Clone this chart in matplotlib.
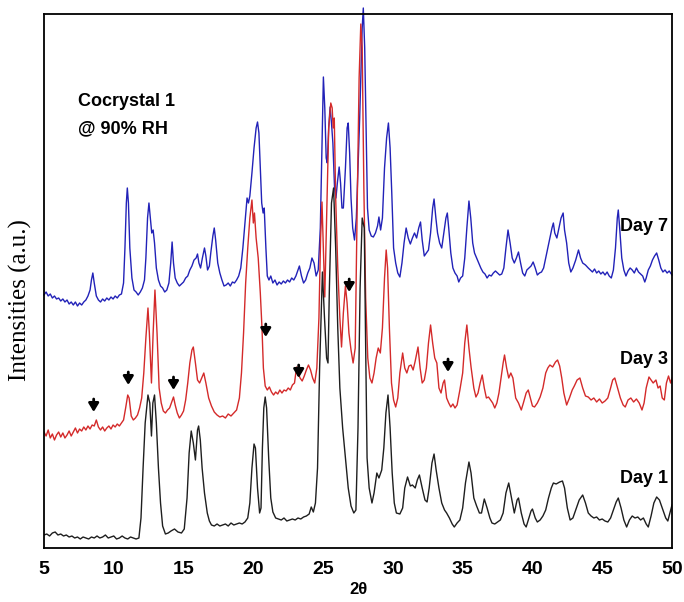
import numpy as np
import matplotlib.pyplot as plt

# PXRD traces of cocrystal 1 stored at 90% RH (stacked intensities, a.u.)
day1_2theta = [5.0, 5.2, 5.4, 5.6, 5.8, 6.0, 6.2, 6.4, 6.6, 6.8, 7.0, 7.2, 7.4, 7.6, 7.8, 8.0, 8.2, 8.4, 8.6, 8.8,
               9.0, 9.2, 9.4, 9.6, 9.8, 10.0, 10.2, 10.4, 10.6, 10.8, 11.0, 11.2, 11.4, 11.6, 11.8, 11.95, 12.1,
               12.25, 12.45, 12.58, 12.7, 12.8, 12.92, 13.05, 13.2, 13.35, 13.5, 13.7, 13.9, 14.1, 14.35, 14.6,
               14.85, 15.05, 15.25, 15.4, 15.55, 15.7, 15.85, 16.0, 16.08, 16.2, 16.33, 16.5, 16.7, 16.85, 17.0,
               17.2, 17.4, 17.6, 17.8, 18.0, 18.2, 18.4, 18.6, 18.8, 19.0, 19.2, 19.4, 19.6, 19.75, 19.9, 20.05,
               20.15, 20.3, 20.45, 20.55, 20.65, 20.75, 20.85, 20.95, 21.1, 21.25, 21.4, 21.6, 21.8, 22.0, 22.2,
               22.4, 22.6, 22.8, 23.0, 23.2, 23.4, 23.6, 23.8, 24.0, 24.15, 24.3, 24.45, 24.6, 24.75, 24.95, 25.1,
               25.25, 25.35, 25.45, 25.6, 25.75, 25.9, 26.05, 26.2, 26.4, 26.6, 26.8, 27.0, 27.2, 27.35, 27.5,
               27.65, 27.8, 27.95, 28.05, 28.15, 28.3, 28.5, 28.65, 28.85, 29.0, 29.2, 29.35, 29.5, 29.65, 29.8,
               29.95, 30.1, 30.25, 30.5, 30.7, 30.85, 31.05, 31.25, 31.4, 31.6, 31.75, 31.9, 32.1, 32.3, 32.45,
               32.6, 32.8, 32.95, 33.1, 33.3, 33.5, 33.7, 33.85, 34.05, 34.25, 34.4, 34.6, 34.8, 35.0, 35.2, 35.45,
               35.6, 35.8, 36.0, 36.2, 36.35, 36.55, 36.75, 36.95, 37.1, 37.3, 37.5, 37.7, 37.9, 38.1, 38.3, 38.5,
               38.7, 38.9, 39.0, 39.2, 39.4, 39.55, 39.7, 39.9, 40.0, 40.2, 40.35, 40.55, 40.75, 40.95, 41.15,
               41.35, 41.5, 41.7, 41.95, 42.15, 42.3, 42.5, 42.7, 42.9, 43.1, 43.35, 43.6, 43.8, 44.0, 44.2, 44.4,
               44.6, 44.8, 45.0, 45.2, 45.4, 45.6, 45.8, 46.0, 46.15, 46.35, 46.55, 46.75, 46.95, 47.15, 47.35,
               47.55, 47.75, 47.95, 48.15, 48.3, 48.5, 48.7, 48.9, 49.1, 49.3, 49.55, 49.7, 49.85, 50.0]
day1_int = [13, 14, 12, 15, 16, 13, 14, 12, 13, 11, 12, 10, 11, 9, 11, 10, 9, 11, 10, 12,
            10, 11, 13, 10, 11, 12, 9, 10, 12, 10, 9, 11, 10, 9, 10, 30, 80,
            125, 153, 145, 112, 145, 153, 125, 80, 45, 22, 14, 15, 17, 19, 16,
            15, 19, 50, 95, 117, 105, 88, 118, 122, 108, 80, 55, 35, 27, 23,
            22, 24, 22, 23, 24, 22, 25, 23, 24, 25, 24, 26, 30, 45, 80, 104,
            100, 60, 35, 40, 100, 140, 151, 140, 90, 50, 36, 30, 29, 28, 30,
            27, 28, 29, 28, 30, 29, 31, 32, 34, 41, 36, 45, 80, 180, 276, 230,
            190, 185, 260, 345, 360, 300, 220, 160, 120, 90, 60, 42, 35, 38, 120,
            260, 330, 320, 200, 90, 60, 45, 55, 75, 70, 78, 100, 135, 153, 120,
            75, 45, 35, 34, 40, 60, 71, 62, 63, 60, 68, 73, 60, 48, 46,
            60, 85, 94, 78, 60, 45, 38, 35, 30, 24, 21, 25, 28, 40, 65, 86,
            75, 50, 42, 35, 35, 49, 40, 30, 25, 24, 26, 28, 35, 55, 65, 50,
            35, 48, 50, 35, 24, 21, 28, 37, 39, 30, 26, 28, 32, 38, 50,
            60, 65, 64, 66, 67, 60, 40, 28, 30, 38, 48, 53, 45, 35, 32, 30,
            31, 28, 29, 27, 26, 30, 38, 46, 50, 40, 28, 21, 28, 32, 30,
            31, 28, 30, 24, 21, 32, 45, 51, 48, 40, 30, 27, 35, 43]

day3_2theta = [5.0, 5.15, 5.3, 5.45, 5.6, 5.75, 5.9, 6.05, 6.2, 6.35, 6.5, 6.65, 6.8, 6.95, 7.1, 7.25, 7.4, 7.55,
               7.7, 7.85, 8.0, 8.15, 8.3, 8.45, 8.6, 8.75, 8.9, 9.05, 9.2, 9.35, 9.5, 9.65, 9.8, 9.95, 10.1, 10.25,
               10.4, 10.55, 10.7, 10.85, 11.0, 11.1, 11.25, 11.4, 11.55, 11.7, 11.85, 12.0, 12.15, 12.3, 12.45,
               12.55, 12.7, 12.82, 12.95, 13.1, 13.25, 13.4, 13.55, 13.7, 13.85, 14.0, 14.15, 14.28, 14.4, 14.55,
               14.7, 14.85, 15.0, 15.15, 15.3, 15.45, 15.6, 15.7, 15.85, 16.0, 16.15, 16.3, 16.45, 16.6, 16.8,
               17.0, 17.2, 17.4, 17.6, 17.8, 18.0, 18.2, 18.4, 18.6, 18.8, 19.0, 19.15, 19.3, 19.45, 19.6, 19.75,
               19.9, 20.0, 20.08, 20.2, 20.35, 20.5, 20.62, 20.72, 20.85, 21.0, 21.15, 21.3, 21.45, 21.6, 21.75,
               21.9, 22.05, 22.2, 22.35, 22.5, 22.65, 22.8, 22.95, 23.1, 23.2, 23.35, 23.5, 23.65, 23.8, 23.95,
               24.1, 24.25, 24.4, 24.55, 24.7, 24.82, 24.92, 25.02, 25.12, 25.25, 25.4, 25.55, 25.65, 25.72, 25.8,
               25.9, 26.05, 26.2, 26.32, 26.45, 26.6, 26.72, 26.85, 27.0, 27.15, 27.3, 27.45, 27.58, 27.7, 27.8,
               27.92, 28.05, 28.2, 28.35, 28.5, 28.65, 28.8, 28.95, 29.1, 29.25, 29.4, 29.52, 29.62, 29.75, 29.9,
               30.05, 30.2, 30.35, 30.5, 30.7, 30.85, 31.0, 31.15, 31.3, 31.45, 31.6, 31.8, 31.95, 32.1, 32.25,
               32.4, 32.55, 32.7, 32.85, 33.0, 33.15, 33.3, 33.45, 33.6, 33.7, 33.85, 34.0, 34.15, 34.3, 34.45,
               34.6, 34.8, 35.0, 35.15, 35.3, 35.45, 35.6, 35.8, 35.95, 36.1, 36.25, 36.4, 36.55, 36.7, 36.85,
               37.0, 37.15, 37.3, 37.45, 37.6, 37.75, 37.9, 38.0, 38.15, 38.3, 38.45, 38.6, 38.8, 39.0, 39.2,
               39.35, 39.55, 39.7, 39.85, 40.0, 40.15, 40.35, 40.55, 40.75, 40.95, 41.1, 41.25, 41.45, 41.65,
               41.8, 41.95, 42.1, 42.25, 42.45, 42.65, 42.85, 43.0, 43.2, 43.4, 43.6, 43.8, 44.0, 44.2, 44.4,
               44.6, 44.8, 45.0, 45.2, 45.4, 45.6, 45.75, 45.9, 46.1, 46.3, 46.5, 46.65, 46.85, 47.05, 47.25,
               47.45, 47.65, 47.85, 48.0, 48.15, 48.35, 48.5, 48.65, 48.85, 49.0, 49.15, 49.3, 49.45, 49.6,
               49.75, 49.9, 50.0]
day3_int = [116, 112, 118, 110, 114, 108, 113, 116, 111, 115, 110, 113, 117, 112, 116, 120, 115, 119,
            117, 121, 118, 122, 119, 123, 122, 128, 121, 118, 121, 117, 120, 122, 119, 123, 121, 124,
            122, 125, 128, 140, 153, 150, 132, 128, 130, 133, 140, 150, 175, 210, 240,
            215, 165, 215, 258, 215, 160, 145, 137, 135, 138, 140, 146, 151, 143, 135,
            130, 133, 137, 148, 165, 185, 198, 201, 185, 168, 165, 170, 175, 165, 150,
            142, 136, 133, 131, 132, 130, 134, 132, 135, 138, 150, 175, 215, 265, 300, 330,
            348, 325, 335, 310, 290, 255, 220, 180, 162, 158, 161, 156, 153, 156, 154,
            158, 155, 158, 157, 160, 158, 163, 165, 181, 175, 170, 167, 172, 178, 183,
            178, 170, 165, 180, 230, 310, 346, 300, 251, 330, 420, 445, 440, 420, 430,
            350, 280, 230, 201, 235, 262, 245, 215, 198, 185, 200, 350, 470, 524, 500,
            360, 250, 190, 170, 165, 175, 190, 200, 195, 220, 270, 298, 280, 220, 165,
            148, 141, 150, 175, 195, 180, 175, 182, 183, 178, 187, 201, 180, 165, 168,
            180, 205, 223, 205, 190, 185, 160, 155, 165, 168, 150, 145, 141, 144, 140,
            143, 158, 175, 205, 223, 200, 181, 160, 151, 155, 165, 173, 160, 150, 151,
            148, 145, 140, 145, 155, 170, 185, 193, 180, 170, 175, 170, 150, 145, 138,
            145, 155, 158, 150, 142, 141, 145, 151, 160, 175, 180, 183, 181, 186,
            188, 182, 170, 155, 143, 150, 158, 162, 168, 170, 160, 152, 151, 148, 150,
            146, 149, 145, 147, 150, 160, 168, 170, 160, 150, 143, 141, 148, 150, 146,
            149, 145, 138, 145, 160, 171, 168, 165, 168, 160, 162, 150, 148, 165,
            172, 165, 170]

day7_2theta = [5.0, 5.15, 5.3, 5.45, 5.6, 5.75, 5.9, 6.05, 6.2, 6.35, 6.5, 6.65, 6.8, 6.95, 7.1, 7.25, 7.4, 7.55,
               7.7, 7.85, 8.0, 8.15, 8.3, 8.4, 8.5, 8.6, 8.75, 8.9, 9.05, 9.2, 9.35, 9.5, 9.65, 9.8, 9.95, 10.1,
               10.25, 10.4, 10.55, 10.7, 10.8, 10.9, 10.97, 11.05, 11.15, 11.3, 11.45, 11.6, 11.75, 11.9, 12.05,
               12.2, 12.3, 12.42, 12.52, 12.62, 12.72, 12.82, 12.92, 13.05, 13.2, 13.35, 13.5, 13.65, 13.8, 13.95,
               14.08, 14.18, 14.28, 14.4, 14.55, 14.7, 14.85, 15.0, 15.15, 15.3, 15.45, 15.6, 15.75, 15.9, 16.0,
               16.1, 16.22, 16.35, 16.5, 16.6, 16.72, 16.85, 16.95, 17.1, 17.2, 17.3, 17.45, 17.6, 17.75, 17.9,
               18.05, 18.2, 18.35, 18.5, 18.65, 18.8, 18.95, 19.1, 19.25, 19.4, 19.55, 19.65, 19.75, 19.9, 20.05,
               20.2, 20.3, 20.4, 20.5, 20.6, 20.7, 20.78, 20.9, 21.0, 21.12, 21.25, 21.4, 21.55, 21.7, 21.85, 22.0,
               22.15, 22.3, 22.45, 22.6, 22.75, 22.9, 23.05, 23.2, 23.3, 23.45, 23.6, 23.75, 23.9, 24.05, 24.2,
               24.35, 24.5, 24.65, 24.8, 24.92, 25.02, 25.12, 25.22, 25.3, 25.4, 25.5, 25.6, 25.7, 25.82, 25.92,
               26.02, 26.15, 26.25, 26.35, 26.45, 26.6, 26.72, 26.8, 26.9, 27.0, 27.12, 27.25, 27.38, 27.5, 27.62,
               27.72, 27.8, 27.88, 27.98, 28.08, 28.18, 28.3, 28.45, 28.6, 28.75, 28.9, 29.0, 29.12, 29.25, 29.4,
               29.55, 29.68, 29.8, 29.92, 30.05, 30.2, 30.35, 30.5, 30.65, 30.8, 30.95, 31.1, 31.25, 31.4, 31.55,
               31.7, 31.85, 31.98, 32.1, 32.25, 32.4, 32.55, 32.7, 32.85, 32.95, 33.08, 33.2, 33.35, 33.5, 33.65,
               33.8, 33.9, 34.0, 34.15, 34.3, 34.45, 34.6, 34.72, 34.85, 35.0, 35.15, 35.3, 35.45, 35.58, 35.72,
               35.85, 36.0, 36.15, 36.3, 36.45, 36.6, 36.75, 36.9, 37.05, 37.2, 37.35, 37.5, 37.65, 37.8, 37.95,
               38.1, 38.25, 38.4, 38.55, 38.7, 38.85, 39.0, 39.15, 39.3, 39.45, 39.6, 39.75, 39.9, 40.05, 40.2,
               40.35, 40.5, 40.65, 40.8, 40.95, 41.1, 41.25, 41.4, 41.5, 41.6, 41.75, 41.9, 42.05, 42.2, 42.3,
               42.45, 42.6, 42.75, 42.9, 43.1, 43.3, 43.45, 43.6, 43.8, 44.0, 44.15, 44.3, 44.45, 44.6, 44.75,
               44.9, 45.05, 45.2, 45.35, 45.5, 45.65, 45.8, 45.95, 46.08, 46.15, 46.25, 46.4, 46.55, 46.7, 46.85,
               47.0, 47.15, 47.3, 47.45, 47.6, 47.75, 47.9, 48.05, 48.15, 48.3, 48.45, 48.6, 48.75, 48.9, 49.05,
               49.2, 49.35, 49.5, 49.65, 49.8, 50.0]
day7_int = [253, 256, 252, 254, 250, 252, 249, 250, 247, 249, 246, 248, 244, 246, 243, 246, 242, 245,
            243, 246, 248, 252, 258, 268, 275, 265, 252, 248, 246, 249, 247, 250, 248, 251, 249, 252,
            250, 253, 254, 265, 300, 345, 360, 345, 300, 270, 258, 256, 253, 256, 260,
            268, 290, 330, 345, 330, 315, 318, 305, 280, 268, 262, 260, 256, 258, 265,
            285, 306, 285, 270, 265, 262, 264, 266, 270, 272, 278, 282, 288, 290, 294,
            285, 280, 290, 300, 292, 278, 282, 295, 312, 320, 308, 285, 275, 268, 262,
            263, 265, 262, 266, 265, 268, 272, 280, 300, 325, 350, 345, 352, 375, 400,
            420, 426, 415, 380, 345, 335, 340, 300, 272, 268, 272, 265, 268, 263, 266, 264,
            267, 265, 268, 266, 270, 268, 272, 278, 282, 272, 265, 268, 275, 280, 290,
            285, 272, 278, 320, 400, 471, 440, 390, 385, 420, 441, 425, 405, 360, 350,
            365, 381, 365, 340, 340, 380, 420, 425, 395, 350, 320, 308, 330, 380, 430,
            480, 520, 540, 500, 420, 340, 318, 312, 311, 315, 322, 331, 318, 330, 380,
            410, 425, 400, 355, 300, 285, 275, 271, 285, 305, 320, 310, 304, 310, 315,
            310, 320, 326, 308, 292, 295, 298, 315, 340, 349, 330, 315, 305, 300, 315,
            330, 335, 320, 295, 280, 275, 272, 266, 270, 272, 290, 320, 347, 330, 305,
            295, 290, 285, 280, 276, 274, 270, 273, 272, 275, 277, 275, 273, 274, 280,
            300, 318, 305, 290, 285, 290, 296, 285, 275, 272, 278, 280, 282, 286, 280,
            273, 275, 276, 280, 290, 300, 310, 320, 325, 315, 310, 320, 330, 335, 318,
            305, 285, 276, 280, 288, 298, 290, 285, 283, 280, 278, 276, 279, 275, 277,
            274, 276, 273, 276, 272, 270, 278, 300, 330, 338, 320, 290, 278, 272, 277,
            280, 278, 275, 280, 276, 274, 272, 266, 270, 278, 282, 288, 292, 295, 288,
            280, 276, 278, 275, 277, 273]

# new reflections appearing on day 3 (2theta, arrow tip height)
arrow_2theta = [8.56, 11.04, 14.28, 20.89, 23.25, 26.87, 33.95]
arrow_tip = [136, 163, 158, 211, 170, 256, 176]

day_labels = ['Day 1', 'Day 3', 'Day 7']
x_ticks = [5, 10, 15, 20, 25, 30, 35, 40, 45, 50]

narrow = ['Liberation Sans Narrow', 'Liberation Sans', 'DejaVu Sans']

fig = plt.figure(figsize=(6.84, 6.02), dpi=100)
ax = fig.add_axes([44 / 684, 54 / 602, 628 / 684, 534 / 602])

ax.plot(day7_2theta, day7_int, color='#2222b8', lw=1.0, clip_on=False)
ax.plot(day3_2theta, day3_int, color='#d42a2a', lw=1.0)
ax.plot(day1_2theta, day1_int, color='#1e1e1e', lw=1.0)

for x, tip in zip(arrow_2theta, arrow_tip):
    ax.annotate('', xy=(x, tip), xytext=(x, tip + 13),
                arrowprops=dict(arrowstyle='-|>,head_width=0.3,head_length=0.5',
                                lw=2.0, color='black', shrinkA=0, shrinkB=0))

ax.set_xlim(5, 50)
ax.set_ylim(0, 534)
ax.set_xticks(x_ticks)
ax.set_xticklabels([str(t) for t in x_ticks], family=narrow, fontweight='bold', fontsize=14)
ax.set_yticks([])
ax.tick_params(axis='x', length=0, pad=9)
for s in ax.spines.values():
    s.set_linewidth(1.3)

ax.set_xlabel('2θ', family=narrow, fontweight='bold', fontsize=12, labelpad=3)
ax.set_ylabel('Intensities (a.u.)', family=['Liberation Serif', 'DejaVu Serif'], fontsize=18, va='center')
ax.yaxis.set_label_coords(-0.037, 0.464)

ax.text(0.054, 0.828, 'Cocrystal 1', transform=ax.transAxes, family=narrow,
        fontweight='bold', fontsize=13, va='baseline')
ax.text(0.054, 0.777, '@ 90% RH', transform=ax.transAxes, family=narrow,
        fontweight='bold', fontsize=13, va='baseline')

for label, ypos in zip(day_labels, [0.122, 0.345, 0.594]):
    ax.text(0.9936, ypos, label, transform=ax.transAxes, family=narrow,
            fontweight='bold', fontsize=13, ha='right', va='baseline')

fig.savefig('out.png', dpi=100)
